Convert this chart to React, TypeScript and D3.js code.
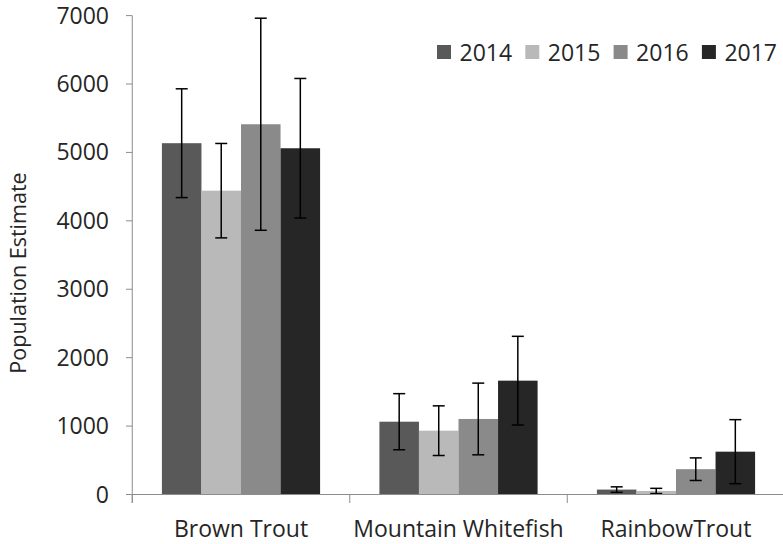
import React from "react";
import * as d3 from "d3";

const categories = ["Brown Trout", "Mountain Whitefish", "RainbowTrout"];
const years = ["2014", "2015", "2016", "2017"];
const values2014 = [5135, 1064, 72];
const values2015 = [4441, 933, 52];
const values2016 = [5412, 1104, 370];
const values2017 = [5061, 1664, 626];
const err2014 = [795, 410, 40];
const err2015 = [690, 363, 38];
const err2016 = [1550, 524, 165];
const err2017 = [1020, 648, 468];
const yTicks = [0, 1000, 2000, 3000, 4000, 5000, 6000, 7000];
const colors = ["#595959", "#b9b9b9", "#8a8a8a", "#262626"];

const seriesValues = [values2014, values2015, values2016, values2017];
const seriesErrors = [err2014, err2015, err2016, err2017];

const W = 783;
const H = 544;
const FONT = "'Open Sans', sans-serif";

export default function App() {
  const x0 = d3.scaleBand<string>().domain(categories).range([132.25, 132.25 + 217.5 * 3]).paddingInner(0).paddingOuter(0);
  const bw = x0.bandwidth();
  const x1 = d3.scaleBand<string>().domain(years).range([bw * 0.75 / 5.5, bw - (bw * 0.75) / 5.5]).padding(0);
  const y = d3.scaleLinear().domain([0, 7000]).range([494.5, 15.6]);
  const axisColor = "#8c8c8c";
  const textColor = "#262626";

  return (
    <svg width={W} height={H} style={{ position: "fixed", left: 0, top: 0, background: "#fff" }} fontFamily={FONT}>
      {/* bars */}
      {years.map((yr, si) => (
        <g key={yr}>
          {categories.map((c, ci) => {
            const v = seriesValues[si][ci];
            const bx = (x0(c) as number) + (x1(yr) as number);
            return (
              <rect
                key={c}
                x={bx}
                y={y(v)}
                width={x1.bandwidth()}
                height={y(0) - y(v)}
                fill={colors[si]}
              />
            );
          })}
        </g>
      ))}
      {/* error bars */}
      {years.map((yr, si) => (
        <g key={"e" + yr} stroke="#000" strokeWidth={1.5}>
          {categories.map((c, ci) => {
            const v = seriesValues[si][ci];
            const e = seriesErrors[si][ci];
            const cx = (x0(c) as number) + (x1(yr) as number) + x1.bandwidth() / 2;
            const yt = y(v + e);
            const yb = y(Math.max(0, v - e));
            return (
              <g key={c}>
                <line x1={cx} x2={cx} y1={yt} y2={yb} />
                <line x1={cx - 6} x2={cx + 6} y1={yt} y2={yt} />
                <line x1={cx - 6} x2={cx + 6} y1={yb} y2={yb} />
              </g>
            );
          })}
        </g>
      ))}
      {/* y axis */}
      <line x1={132.25} x2={132.25} y1={y(7000)} y2={503} stroke={axisColor} strokeWidth={1} />
      {yTicks.map((t) => (
        <g key={t}>
          <line x1={126} x2={132.25} y1={y(t)} y2={y(t)} stroke={axisColor} strokeWidth={1} />
          <text x={109} y={y(t)} dy="0.35em" textAnchor="end" fontSize={23} fill={textColor}>
            {t}
          </text>
        </g>
      ))}
      {/* x axis */}
      <line x1={132.25} x2={W} y1={y(0)} y2={y(0)} stroke={axisColor} strokeWidth={1} />
      {categories.map((c) => (
        <g key={c}>
          <line
            x1={x0(c) as number}
            x2={x0(c) as number}
            y1={y(0)}
            y2={503}
            stroke={axisColor}
            strokeWidth={1}
          />
          <text x={(x0(c) as number) + bw / 2} y={537} textAnchor="middle" fontSize={23} fill={textColor}>
            {c}
          </text>
        </g>
      ))}
      {/* y title */}
      <text
        transform={`translate(26,${273}) rotate(-90)`}
        textAnchor="middle"
        fontSize={21.5}
        fill={textColor}
      >
        Population Estimate
      </text>
      {/* legend */}
      {years.map((yr, i) => {
        const lx = 437 + i * 88.3;
        return (
          <g key={"l" + yr}>
            <rect x={lx} y={45} width={14} height={14} fill={colors[i]} />
            <text x={lx + 22.5} y={60.5} fontSize={23} fill={textColor}>
              {yr}
            </text>
          </g>
        );
      })}
    </svg>
  );
}
